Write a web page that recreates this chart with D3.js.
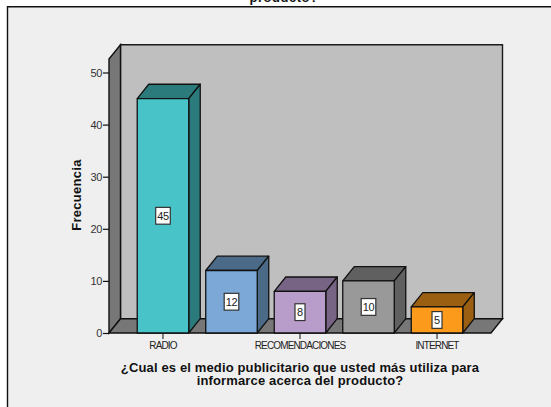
<!DOCTYPE html>
<html>
<head>
<meta charset="utf-8">
<script src="https://cdn.jsdelivr.net/npm/d3@7/dist/d3.min.js"></script>
<style>
html, body { margin: 0; padding: 0; background: #fff; }
svg { display: block; }
text { font-family: "Liberation Sans", Arial, sans-serif; }
</style>
</head>
<body>
<div id="chart"></div>
<script>
const values = [45, 12, 8, 10, 5];
const categoryLabels = ["RADIO", "", "RECOMENDACIONES", "", "INTERNET"];
const frontColors = ["#48c4c8", "#7ba8d6", "#b89dcb", "#999999", "#fc9a1c"];
const shadeColors = ["#2b7a7c", "#4a6a87", "#776383", "#606060", "#9a5f10"];
const yTicks = [0, 10, 20, 30, 40, 50];
const titleTail = "producto?";
const xTitleLines = [
  "¿Cual es el medio publicitario que usted más utiliza para",
  "informarce acerca del producto?"
];
const yTitle = "Frecuencia";

const width = 551, height = 407;
const svg = d3.select("#chart").append("svg").attr("width", width).attr("height", height);

const plot = { left: 109, right: 491, bottom: 333, top: 59 };
const depth = { x: 11.5, y: -14.3 };

const x = d3.scaleBand()
  .domain(d3.range(values.length))
  .range([plot.left, plot.right])
  .paddingInner(0.248)
  .paddingOuter(0.412);

const y = d3.scaleLinear()
  .domain([0, 50])
  .range([plot.bottom, 72.5]);

const poly = pts => pts.map(p => p.join(",")).join(" ");

// Title wraps above the frame; only its last line's lower edge shows
svg.append("text")
  .attr("x", 284).attr("y", 2)
  .attr("text-anchor", "middle")
  .attr("font-size", 13).attr("font-weight", "bold").attr("letter-spacing", 0.5)
  .attr("fill", "#111")
  .text(titleTail);

// Chart frame: open on the right and at the bottom
svg.append("rect")
  .attr("x", 7).attr("y", 7).attr("width", width).attr("height", height)
  .attr("fill", "#efefef");
svg.append("path")
  .attr("d", `M7.5,${height}V6.8H${width}`)
  .attr("fill", "none").attr("stroke", "#111").attr("stroke-width", 1.4);

// 3D box: back wall, left wall, floor
const L = plot.left, R = plot.right, B = plot.bottom, T = plot.top;
const dx = depth.x, dy = depth.y;
svg.append("polygon")
  .attr("points", poly([[L + dx, T + dy], [R + dx, T + dy], [R + dx, B + dy], [L + dx, B + dy]]))
  .attr("fill", "#bfbfbf").attr("stroke", "#1a1a1a").attr("stroke-width", 1.4);
svg.append("polygon")
  .attr("points", poly([[L, T], [L + dx, T + dy], [L + dx, B + dy], [L, B]]))
  .attr("fill", "#777777").attr("stroke", "#111").attr("stroke-width", 1.4);
svg.append("polygon")
  .attr("points", poly([[L, B], [L + dx, B + dy], [R + dx, B + dy], [R, B]]))
  .attr("fill", "#777777").attr("stroke", "#111").attr("stroke-width", 1.4);

// Y axis
const yAxis = svg.append("g")
  .attr("transform", `translate(${plot.left},0)`)
  .call(d3.axisLeft(y).tickValues(yTicks).tickSize(6).tickPadding(1));
yAxis.select(".domain").remove();
yAxis.selectAll("line").attr("stroke", "#111").attr("stroke-width", 1.2);
yAxis.selectAll("text")
  .attr("font-size", 11).attr("letter-spacing", -0.4)
  .attr("fill", "#333").style("font-family", '"Liberation Sans", Arial, sans-serif');

// X axis: only the labelled categories carry a tick
const xAxis = svg.append("g")
  .attr("transform", `translate(0,${plot.bottom})`)
  .call(d3.axisBottom(x)
    .tickValues(d3.range(values.length).filter(i => categoryLabels[i]))
    .tickFormat(i => categoryLabels[i])
    .tickSize(6).tickPadding(3));
xAxis.select(".domain").remove();
xAxis.selectAll("line").attr("stroke", "#111").attr("stroke-width", 1);
xAxis.selectAll("text")
  .attr("font-size", 10).attr("letter-spacing", -0.85)
  .attr("fill", "#222").style("font-family", '"Liberation Sans", Arial, sans-serif');

// Bars
const bars = svg.append("g").selectAll("g")
  .data(values)
  .join("g");

bars.append("polygon")
  .attr("points", (d, i) => {
    const a = x(i), b = a + x.bandwidth(), t = y(d);
    return poly([[a, t], [a + dx, t + dy], [b + dx, t + dy], [b, t]]);
  })
  .attr("fill", (d, i) => shadeColors[i]);
bars.append("polygon")
  .attr("points", (d, i) => {
    const b = x(i) + x.bandwidth(), t = y(d);
    return poly([[b, t], [b + dx, t + dy], [b + dx, B + dy], [b, B]]);
  })
  .attr("fill", (d, i) => shadeColors[i]);
bars.append("rect")
  .attr("x", (d, i) => x(i))
  .attr("y", d => y(d))
  .attr("width", x.bandwidth())
  .attr("height", d => y(0) - y(d))
  .attr("fill", (d, i) => frontColors[i]);
bars.selectAll("polygon, rect")
  .attr("stroke", "#111").attr("stroke-width", 1.3).attr("stroke-linejoin", "round");

// Value tags at mid-height of each bar
const tags = bars.append("g")
  .attr("transform", (d, i) => `translate(${x(i) + x.bandwidth() / 2},${y(d / 2)})`);
tags.append("rect")
  .attr("x", d => d >= 10 ? -7.3 : -5)
  .attr("y", -8.4)
  .attr("width", d => d >= 10 ? 14.6 : 10)
  .attr("height", 16.8)
  .attr("fill", "#fff").attr("stroke", "#333").attr("stroke-width", 1.2);
tags.append("text")
  .attr("text-anchor", "middle").attr("y", 4)
  .attr("font-size", 11).attr("letter-spacing", -0.3)
  .attr("fill", "#222")
  .text(d => d);

// Axis titles
svg.append("text")
  .attr("transform", "translate(81,195) rotate(-90)")
  .attr("text-anchor", "middle")
  .attr("font-size", 13).attr("font-weight", "bold").attr("letter-spacing", 0.3)
  .attr("fill", "#111")
  .text(yTitle);

svg.append("g").selectAll("text")
  .data(xTitleLines)
  .join("text")
  .attr("x", 300)
  .attr("y", (d, i) => 372 + i * 13.3)
  .attr("text-anchor", "middle")
  .attr("font-size", 13).attr("font-weight", "bold").attr("letter-spacing", 0.14)
  .attr("fill", "#111")
  .text(d => d);
</script>
</body>
</html>
